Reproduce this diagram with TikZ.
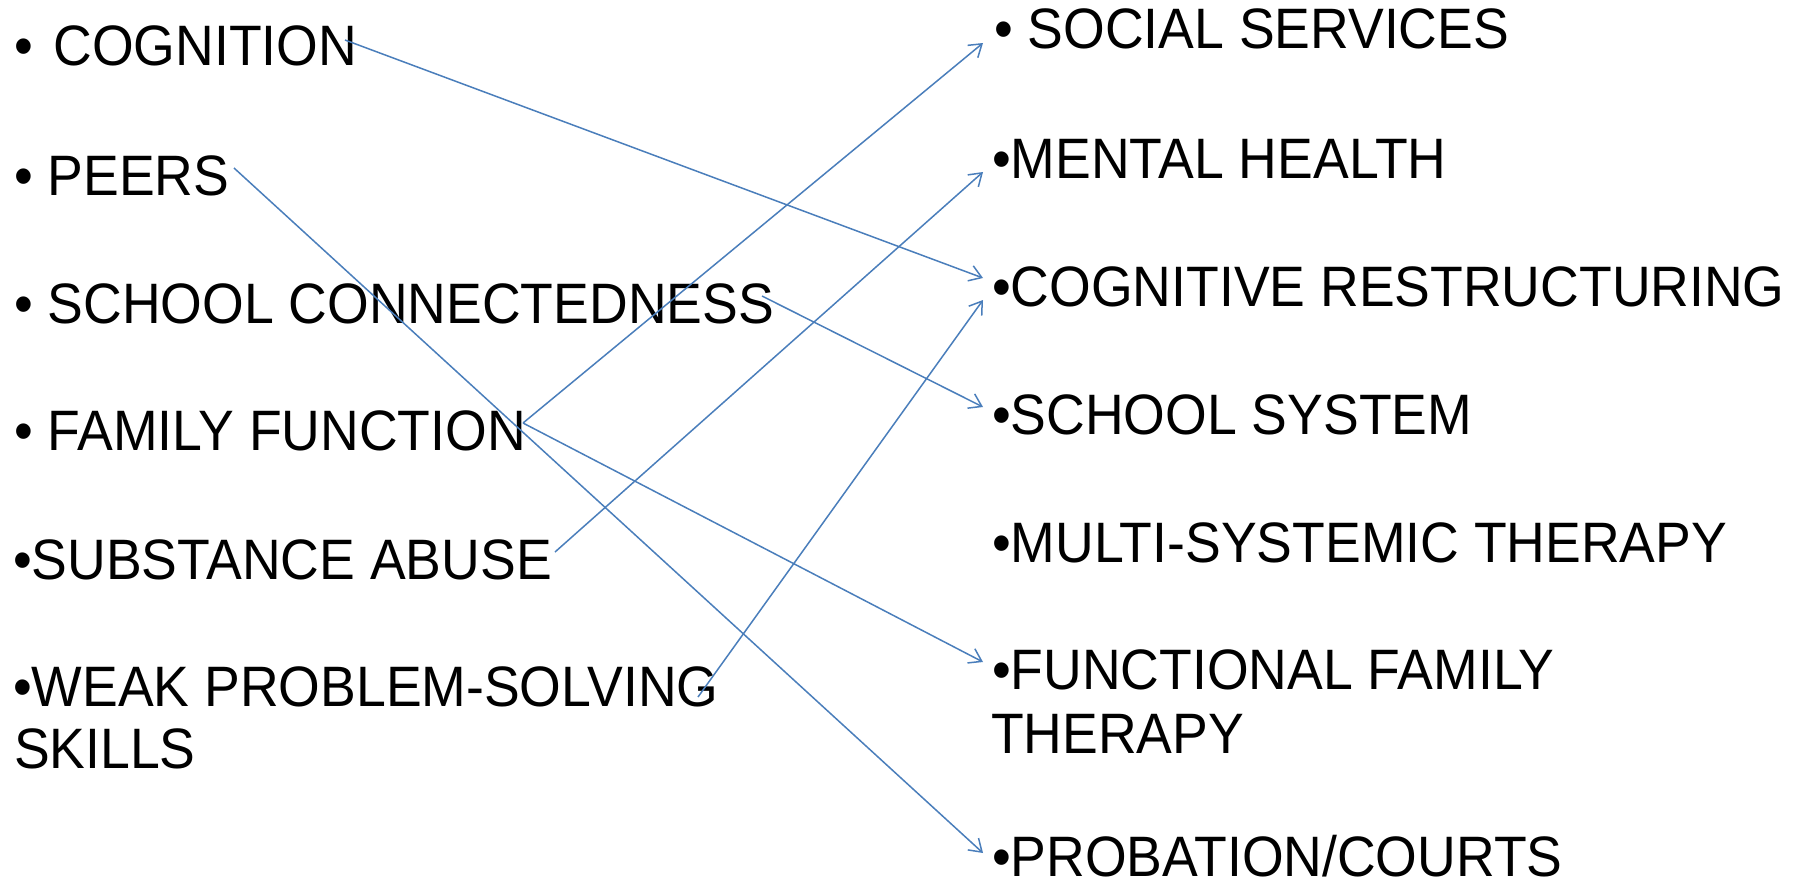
\documentclass[tikz,border=0pt]{standalone}
\usepackage{fontspec}
\setmainfont{Liberation Sans}[FakeStretch=0.94]
\usetikzlibrary{arrows.meta}
\definecolor{linkblue}{HTML}{4A7EBB}
\tikzset{
  item/.style={anchor=base west, inner sep=0pt, outer sep=0pt, font=\fontsize{28.5}{31}\selectfont},
  link/.style={draw=linkblue, line width=0.75pt, -{Straight Barb[length=6pt,width=8pt]}}
}
\begin{document}
\begin{tikzpicture}[x=0.5pt,y=-0.5pt]
\useasboundingbox (0,0) rectangle (1797,885);
% left column
\node[item] (cog)    at (14,65)  {• \hspace{3pt}COGNITION};
\node[item] (peers)  at (14,195) {• PEERS};
\node[item] (school) at (14,323) {• SCHOOL CONNECTEDNESS};
\node[item] (family) at (14,450) {• FAMILY FUNCTION};
\node[item] (subst)  at (13,579) {•SUBSTANCE ABUSE};
\node[item] (weak)   at (13,706) {•WEAK PROBLEM-SOLVING};
\node[item] (weak2)  at (14,768) {SKILLS};
% right column
\node[item] (social) at (994,48)  {• SOCIAL SERVICES};
\node[item] (mental) at (992,178) {•MENTAL HEALTH};
\node[item] (cogr)   at (992,306) {•COGNITIVE RESTRUCTURING};
\node[item] (schsys) at (992,434) {•SCHOOL SYSTEM};
\node[item] (mst)    at (992,562) {•MULTI-SYSTEMIC THERAPY};
\node[item] (fft)    at (992,689) {•FUNCTIONAL FAMILY};
\node[item] (fft2)   at (991,753) {THERAPY};
\node[item] (prob)   at (992,876) {•PROBATION/COURTS};
% connector end points
\coordinate (cogS)    at (345,40);
\coordinate (peersS)  at (234,168);
\coordinate (schoolS) at (762,296);
\coordinate (familyS) at (523,423);
\coordinate (substS)  at (555,552);
\coordinate (weakS)   at (698,697);
\coordinate (socialT) at (983,43);
\coordinate (mentalT) at (983,172);
\coordinate (cogrT1)  at (983,278);
\coordinate (cogrT2)  at (983,300);
\coordinate (schsysT) at (983,407);
\coordinate (fftT)    at (983,662);
\coordinate (probT)   at (983,853);
% connectors
\draw[link] (cogS) -- (cogrT1);
\draw[link] (peersS) -- (probT);
\draw[link] (schoolS) -- (schsysT);
\draw[link] (familyS) -- (socialT);
\draw[link] (familyS) -- (fftT);
\draw[link] (substS) -- (mentalT);
\draw[link] (weakS) -- (cogrT2);
\end{tikzpicture}
\end{document}
